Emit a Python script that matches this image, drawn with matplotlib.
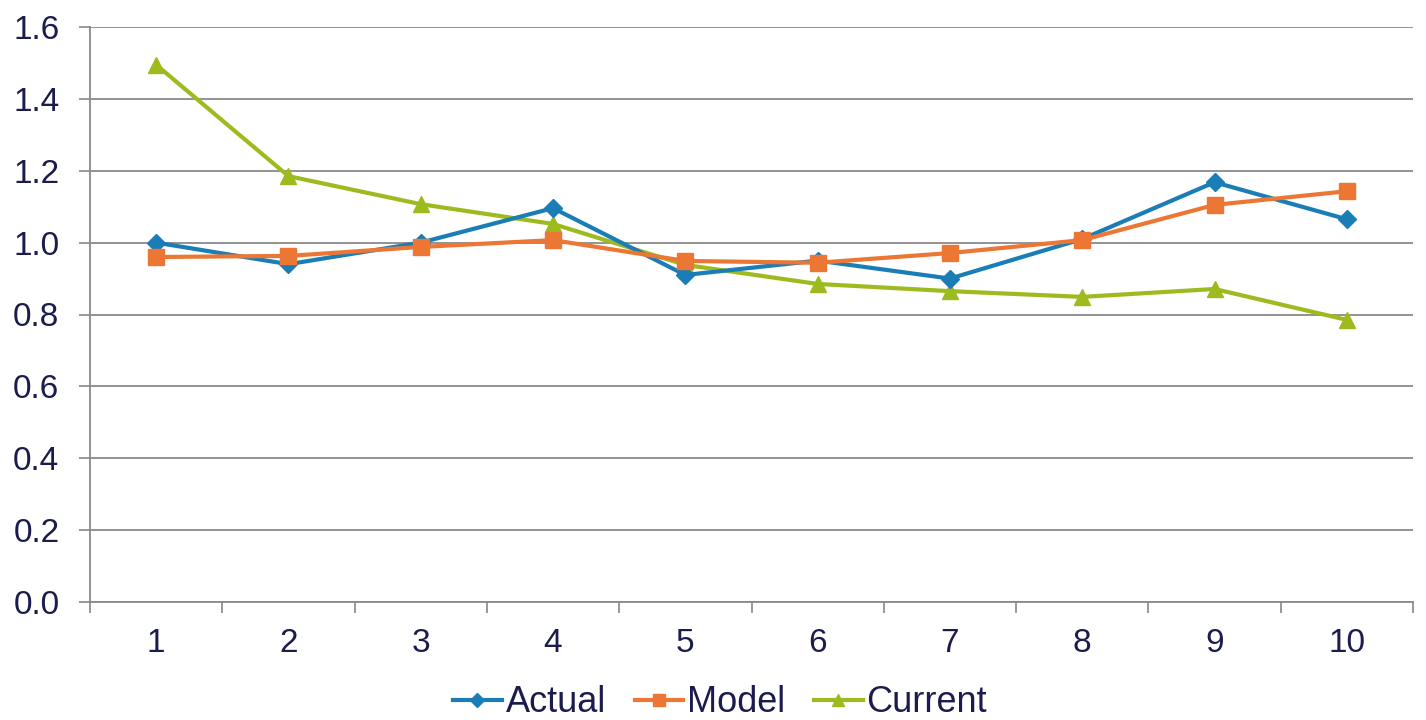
import matplotlib
matplotlib.use("Agg")
import matplotlib.pyplot as plt
from matplotlib.ticker import MultipleLocator, FixedLocator

categories = [1, 2, 3, 4, 5, 6, 7, 8, 9, 10]
actual = [1.00, 0.94, 1.00, 1.096, 0.91, 0.95, 0.90, 1.01, 1.168, 1.065]
model = [0.96, 0.963, 0.988, 1.007, 0.949, 0.944, 0.971, 1.007, 1.105, 1.143]
current = [1.495, 1.185, 1.107, 1.052, 0.938, 0.885, 0.865, 0.849, 0.871, 0.785]
series_names = ["Actual", "Model", "Current"]

plt.rcParams['font.family'] = ['Liberation Sans', 'DejaVu Sans']
text_color = '#1c1c4c'

fig = plt.figure(figsize=(14.26, 7.2), dpi=100)
ax = fig.add_axes([90/1426, 1-602/720, (1413-90)/1426, (602-27)/720])

x = list(range(1, len(categories)+1))
ax.plot(x, actual, color='#1a7db6', lw=3, marker='D', ms=9, label=series_names[0], zorder=3)
ax.plot(x, model, color='#ec7734', lw=3, marker='s', ms=11, label=series_names[1], zorder=4)
ax.plot(x, current, color='#9dbb1f', lw=3, marker='^', ms=11, label=series_names[2], zorder=2)

ax.set_xlim(0.5, len(categories)+0.5)
ax.set_ylim(0, 1.6)
ax.yaxis.set_major_locator(MultipleLocator(0.2))
ax.yaxis.set_major_formatter(matplotlib.ticker.FormatStrFormatter('%.1f'))
ax.set_xticks(x)
ax.set_xticklabels([str(c) for c in categories])
ax.xaxis.set_minor_locator(FixedLocator([i + 0.5 for i in range(0, len(categories)+1)]))
ax.tick_params(axis='x', which='major', length=0, pad=19, labelsize=24, labelcolor=text_color)
ax.tick_params(axis='x', which='minor', length=8, width=1.2, color='#888888', direction='out')
ax.tick_params(axis='y', which='major', length=8, width=1.2, color='#888888', pad=14, labelsize=24, labelcolor=text_color)

ax.grid(axis='y', color='#8a8a8a', lw=1.3)
ax.set_axisbelow(True)
for s in ['top', 'right']:
    ax.spines[s].set_visible(False)
for s in ['left', 'bottom']:
    ax.spines[s].set_color('#8a8a8a')
    ax.spines[s].set_linewidth(1.3)

leg = fig.legend(loc='center', bbox_to_anchor=(720/1426, 1-703/720), ncol=3, frameon=False,
                 fontsize=26, handlelength=1.35, handletextpad=0.1, columnspacing=0.8,
                 markerscale=0.75)
for t in leg.get_texts():
    t.set_color(text_color)

fig.savefig('out.png', dpi=100)
